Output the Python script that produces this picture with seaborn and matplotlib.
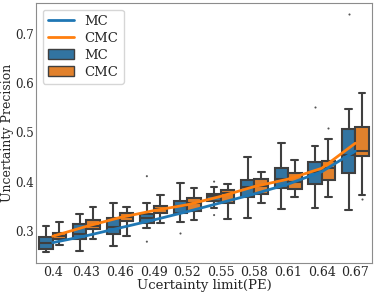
import numpy as np
import pandas as pd
import matplotlib
matplotlib.use("Agg")
import matplotlib.pyplot as plt
from matplotlib.lines import Line2D
from matplotlib.patches import Patch
import seaborn as sns

limits = ["0.4", "0.43", "0.46", "0.49", "0.52", "0.55", "0.58", "0.61", "0.64", "0.67"]

# box statistics: lower whisker, q1, median, q3, upper whisker
mc_lo  = [0.257, 0.259, 0.269, 0.305, 0.318, 0.3455, 0.327, 0.345, 0.3455, 0.342]
mc_q1  = [0.264, 0.2825, 0.293, 0.315, 0.3366, 0.360, 0.369, 0.386, 0.395, 0.418]
mc_med = [0.275, 0.293, 0.307, 0.327, 0.350, 0.370, 0.389, 0.405, 0.420, 0.454]
mc_q3  = [0.287, 0.3136, 0.327, 0.334, 0.361, 0.375, 0.403, 0.427, 0.440, 0.506]
mc_hi  = [0.310, 0.334, 0.356, 0.356, 0.398, 0.389, 0.449, 0.478, 0.472, 0.547]

cmc_lo  = [0.272, 0.283, 0.290, 0.315, 0.323, 0.325, 0.357, 0.369, 0.368, 0.3726]
cmc_q1  = [0.284, 0.303, 0.3197, 0.3354, 0.3407, 0.356, 0.3746, 0.3855, 0.403, 0.452]
cmc_med = [0.290, 0.3096, 0.3285, 0.344, 0.3557, 0.377, 0.3915, 0.400, 0.427, 0.4626]
cmc_q3  = [0.296, 0.322, 0.3366, 0.351, 0.367, 0.3827, 0.405, 0.417, 0.4417, 0.510]
cmc_hi  = [0.318, 0.349, 0.349, 0.3726, 0.388, 0.396, 0.4187, 0.4437, 0.4864, 0.579]

# outliers (limit, method, value)
out_limit  = ["0.49", "0.49", "0.52", "0.55", "0.55", "0.64", "0.64", "0.67", "0.67"]
out_method = ["MC", "MC", "MC", "MC", "MC", "MC", "CMC", "MC", "CMC"]
out_value  = [0.411, 0.278, 0.296, 0.400, 0.332, 0.552, 0.509, 0.740, 0.364]

# mean curves
mc_mean  = [0.276, 0.290, 0.306, 0.322, 0.339, 0.357, 0.375, 0.395, 0.420, 0.462]
cmc_mean = [0.289, 0.309, 0.327, 0.341, 0.353, 0.370, 0.390, 0.405, 0.427, 0.478]

methods = ["MC", "CMC"]

rows = []
for i, lim in enumerate(limits):
    for m, (lo, q1, med, q3, hi) in zip(methods, [(mc_lo, mc_q1, mc_med, mc_q3, mc_hi),
                                                    (cmc_lo, cmc_q1, cmc_med, cmc_q3, cmc_hi)]):
        for v in (lo[i], q1[i], med[i], q3[i], hi[i]):
            rows.append({"limit": lim, "method": m, "value": v})
box_df = pd.DataFrame(rows)
out_df = pd.DataFrame({"limit": out_limit, "method": out_method, "value": out_value})
line_df = pd.DataFrame({
    "pos": list(range(len(limits))) * 2,
    "value": mc_mean + cmc_mean,
    "method": ["MC"] * len(limits) + ["CMC"] * len(limits),
})

sns.set_style("white")
plt.rcParams["font.family"] = ["DejaVu Serif"]
plt.rcParams["axes.edgecolor"] = "0.55"

fig = plt.figure(figsize=(3.74, 2.93), dpi=100)
ax = fig.add_axes([0.096, 0.102, 0.899, 0.888])

box_pal = {"MC": "#3274a1", "CMC": "#e1812c"}
line_pal = {"MC": "#1f77b4", "CMC": "#ff7f0e"}

sns.boxplot(data=box_df, x="limit", y="value", hue="method", order=limits,
            hue_order=methods, palette=box_pal, saturation=1, width=0.8,
            whis=(0, 100), linewidth=1.5, linecolor="#3f3f3f", fliersize=0,
            legend=False, ax=ax)
sns.stripplot(data=out_df, x="limit", y="value", hue="method", order=limits,
              hue_order=methods, dodge=True, jitter=False, size=1.5,
              palette={"MC": "#555555", "CMC": "#555555"}, legend=False, ax=ax)
sns.lineplot(data=line_df, x="pos", y="value", hue="method", hue_order=methods,
             palette=line_pal, linewidth=2, legend=False, ax=ax, zorder=5)

ax.set_xlim(-0.5, len(limits) - 0.5)
ax.set_ylim(0.2344, 0.763)
ax.set_yticks([0.3, 0.4, 0.5, 0.6, 0.7])
ax.set_yticklabels(["0.3", "0.4", "0.5", "0.6", "0.7"])
ax.set_xticks(range(len(limits)))
ax.set_xticklabels(limits)
ax.tick_params(axis="both", labelsize=9, length=0, pad=2)
ax.tick_params(axis="y", labelsize=8.5, pad=1.5)
ax.set_xlabel("Ucertainty limit(PE)", fontsize=9.5, labelpad=0)
ax.set_ylabel("Uncertainty Precision", fontsize=9)
ax.yaxis.set_label_coords(-0.064, 0.5)
for s in ax.spines.values():
    s.set_visible(True)
    s.set_color("0.55")

handles = [Line2D([], [], color=line_pal["MC"], lw=2),
           Line2D([], [], color=line_pal["CMC"], lw=2),
           Patch(facecolor=box_pal["MC"], edgecolor="#3f3f3f", lw=1),
           Patch(facecolor=box_pal["CMC"], edgecolor="#3f3f3f", lw=1)]
ax.legend(handles, ["MC", "CMC", "MC", "CMC"], loc="upper left", fontsize=9.5,
          frameon=True, labelspacing=0.3, handlelength=2, borderpad=0.4)

fig.savefig("out.png", dpi=100)
